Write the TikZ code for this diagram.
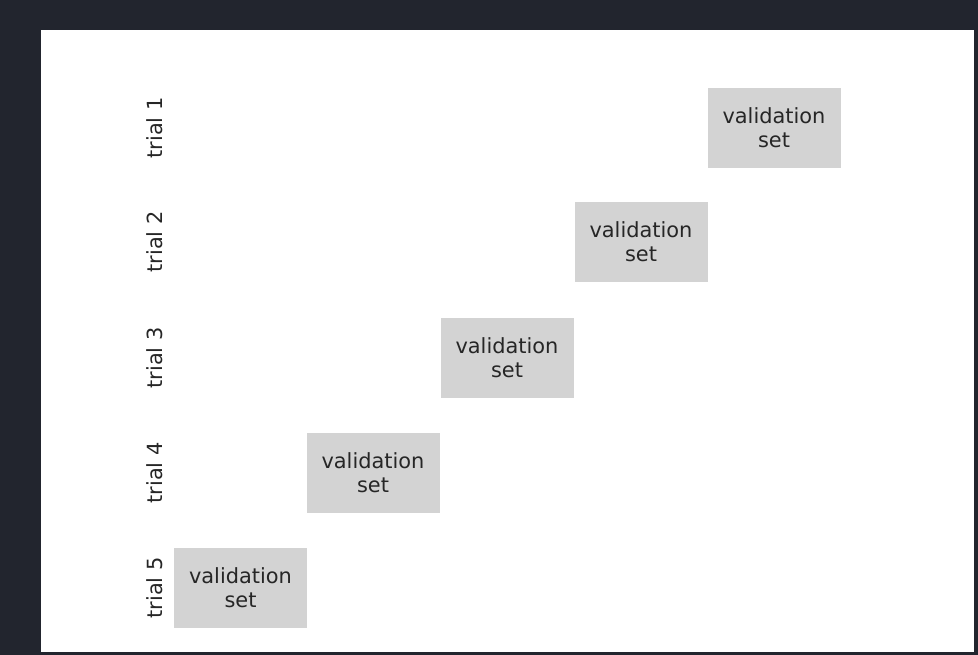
\documentclass[tikz,border=0pt]{standalone}
\usepackage{fontspec}
\setmainfont{DejaVu Sans}
\definecolor{bgdark}{RGB}{34,37,46}
\definecolor{boxgray}{RGB}{211,211,211}
\definecolor{txtgray}{RGB}{38,38,38}
\begin{document}
\begin{tikzpicture}[x=1pt, y=-1pt,
                every node/.style={font=\fontsize{20.9}{24}\selectfont, text=txtgray},
                valbox/.style={fill=boxgray, minimum width=133pt, minimum height=80pt, inner sep=0pt, align=center},
                triallabel/.style={rotate=90}]

                \fill[bgdark] (0,0) rectangle (978,655);
                \fill[white] (41,30) rectangle (974,652);
                \useasboundingbox (0,0) rectangle (978,655);

                % one row per trial, validation block moves left
                \foreach \i/\x/\y in {1/774/128, 2/641/242, 3/507/358, 4/373/473, 5/240.5/588}
                {
                    \node[valbox] (val\i) at (\x,\y) {validation\\set};
                    \node[triallabel] (trial\i) at (155,\y) {trial \i};
                }

                \end{tikzpicture}
\end{document}
